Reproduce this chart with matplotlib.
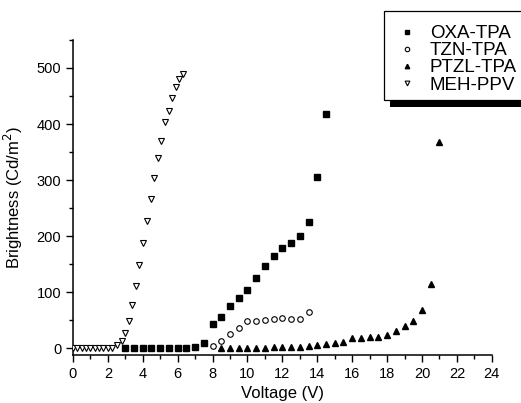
import matplotlib
matplotlib.use("Agg")
import matplotlib.pyplot as plt
from matplotlib.patches import Rectangle
from matplotlib.ticker import MultipleLocator

plt.rcParams['font.family'] = ['Liberation Sans', 'DejaVu Sans']

# OXA-TPA
oxa_v = [3.0, 3.5, 4.0, 4.5, 5.0, 5.5, 6.0, 6.5, 7.0, 7.5, 8.0, 8.5, 9.0, 9.5, 10.0, 10.5,
         11.0, 11.5, 12.0, 12.5, 13.0, 13.5, 14.0, 14.5]
oxa_b = [0, 0, 0, 0, 0, 0, 0, 0, 3, 9, 43, 56, 75, 89, 104, 126,
         147, 165, 178, 188, 200, 226, 305, 418]
# TZN-TPA
tzn_v = [8.0, 8.5, 9.0, 9.5, 10.0, 10.5, 11.0, 11.5, 12.0, 12.5, 13.0, 13.5]
tzn_b = [5, 13, 26, 37, 48, 49, 50, 52, 54, 53, 53, 64]
# PTZL-TPA
ptzl_v = [8.5, 9.0, 9.5, 10.0, 10.5, 11.0, 11.5, 12.0, 12.5, 13.0, 13.5, 14.0, 14.5, 15.0,
          15.5, 16.0, 16.5, 17.0, 17.5, 18.0, 18.5, 19.0, 19.5, 20.0, 20.5, 21.0]
ptzl_b = [0, 0, 0, 0, 1, 1, 2, 2, 3, 3, 5, 6, 8, 10,
          12, 18, 18, 20, 21, 24, 31, 39, 49, 68, 114, 368]
# MEH-PPV
meh_v = [0.0, 0.25, 0.5, 0.75, 1.0, 1.25, 1.5, 1.75, 2.0, 2.25, 2.53, 2.8, 3.01, 3.2, 3.39,
         3.62, 3.81, 4.02, 4.24, 4.45, 4.66, 4.85, 5.06, 5.27, 5.48, 5.69, 5.88, 6.09, 6.3]
meh_b = [0, 0, 0, 0, 0, 0, 0, 0, 0, 1, 6, 13, 27, 49, 77,
         111, 149, 187, 227, 266, 304, 339, 369, 403, 424, 447, 466, 481, 490]

x_ticks = list(range(0, 25, 2))
y_ticks = [0, 100, 200, 300, 400, 500]

fig = plt.figure(figsize=(5.21, 4.03), dpi=100)
ax = fig.add_axes([0.140, 0.119, 0.804, 0.782])

ms = 4.0
ax.plot(ptzl_v, ptzl_b, ls='none', marker='^', ms=ms, color='black', mec='black', label='PTZL-TPA', zorder=2)
ax.plot(oxa_v, oxa_b, ls='none', marker='s', ms=ms - 0.3, color='black', mec='black', label='OXA-TPA', zorder=3)
ax.plot(tzn_v, tzn_b, ls='none', marker='o', ms=ms, mfc='white', mec='black', mew=0.8, label='TZN-TPA', zorder=3)
ax.plot(meh_v, meh_b, ls='none', marker='v', ms=ms + 0.3, mfc='white', mec='black', mew=0.8, label='MEH-PPV', zorder=3)

ax.set_xlim(0, 24)
ax.set_ylim(-12, 550)
ax.set_xticks(x_ticks)
ax.set_yticks(y_ticks)
ax.xaxis.set_minor_locator(MultipleLocator(1))
ax.yaxis.set_minor_locator(MultipleLocator(50))
ax.tick_params(which='major', direction='out', length=5, width=1, labelsize=10.5)
ax.tick_params(which='minor', direction='out', length=3, width=1)
for s in ['top', 'right']:
    ax.spines[s].set_visible(False)
for s in ['left', 'bottom']:
    ax.spines[s].set_linewidth(1.1)

ax.set_xlabel('Voltage (V)', fontsize=12, labelpad=4)
ax.set_ylabel('Brightness (Cd/m$^2$)', fontsize=12, labelpad=8)

# legend frame with shadow
W, H = 521, 403
fig.patches.append(Rectangle((390 / W, 1 - 107 / H), 140 / W, 8 / H, transform=fig.transFigure,
                             facecolor='black', edgecolor='none', zorder=4))
fig.patches.append(Rectangle((384 / W, 1 - 100 / H), 145 / W, 89 / H, transform=fig.transFigure,
                             facecolor='white', edgecolor='black', lw=0.9, zorder=5))

h, l = ax.get_legend_handles_labels()
order = [l.index(n) for n in ['OXA-TPA', 'TZN-TPA', 'PTZL-TPA', 'MEH-PPV']]
leg = fig.legend([h[i] for i in order], [l[i] for i in order], loc='upper left',
                 bbox_to_anchor=(398 / W, 1 - 25 / H), frameon=False, fontsize=13.5,
                 handlelength=1.0, handletextpad=0.7, labelspacing=0.0, borderpad=0,
                 borderaxespad=0, markerscale=0.8)
leg.set_zorder(6)

fig.savefig('out.png', dpi=100)
